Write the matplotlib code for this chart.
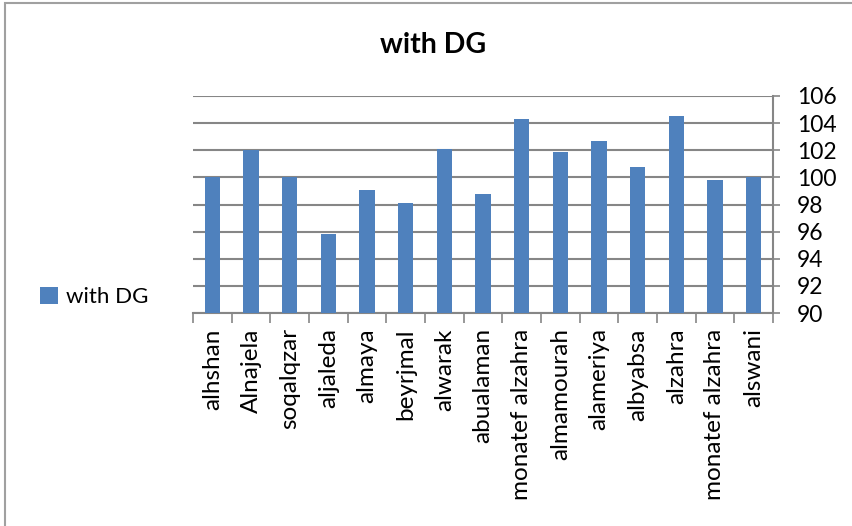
import numpy as np
import matplotlib.pyplot as plt
from matplotlib.patches import Rectangle

plt.rcParams['font.family'] = ['Lato', 'DejaVu Sans']

stations = ['alhshan', 'Alnajela', 'soqalqzar', 'aljaleda', 'almaya', 'beyrjmal',
            'alwarak', 'abualaman', 'monatef alzahra', 'almamourah', 'alameriya',
            'albyabsa', 'alzahra', 'monatef alzahra', 'alswani']
with_dg = [100.0, 102.0, 100.0, 95.8, 99.1, 98.1, 102.1, 98.8,
           104.3, 101.9, 102.7, 100.8, 104.5, 99.8, 100.0]
yticks = list(range(90, 107, 2))

grid_col = '#868686'
bar_col = '#4F81BD'

fig = plt.figure(figsize=(8.53, 5.26), dpi=100)
ax = fig.add_axes([193/853, 1-313/526, 580/853, 217/526])

x = np.arange(len(stations))
ax.bar(x, [v - 90 for v in with_dg], bottom=90, width=0.4, color=bar_col,
       label='with DG', zorder=3)

ax.set_xlim(-0.5, len(stations) - 0.5)
ax.set_ylim(90, 106)
ax.set_yticks(yticks)
ax.yaxis.tick_right()
ax.tick_params(axis='y', length=5, width=1.2, color=grid_col, labelsize=16.5, pad=12)
ax.grid(axis='y', color=grid_col, linewidth=1.5, zorder=0)

# category labels between boundary ticks
ax.set_xticks(x)
ax.set_xticklabels(stations, rotation=90, fontsize=17.5)
ax.tick_params(axis='x', length=0, pad=11)
ax.set_xticks(np.arange(-0.5, len(stations)), minor=True)
ax.tick_params(axis='x', which='minor', length=7, width=1.2, color=grid_col)

for s in ['top', 'left']:
    ax.spines[s].set_visible(False)
ax.spines['bottom'].set_color(grid_col)
ax.spines['bottom'].set_linewidth(1.5)
ax.spines['right'].set_color(grid_col)
ax.spines['right'].set_linewidth(1.5)

fig.text(433/853, 1-45/526, 'with DG', ha='center', va='center',
         fontsize=20.5, fontweight='bold')

ax.legend(loc='center left', bbox_to_anchor=(20/853, 1-297/526),
          bbox_transform=fig.transFigure, frameon=False, fontsize=16,
          handlelength=0.8, handleheight=0.8, handletextpad=0.35)

fig.patches.append(Rectangle((5/853, -0.02), 1.0, 1-3/526+0.02,
                             transform=fig.transFigure, fill=False,
                             edgecolor='#A0A0A0', linewidth=1.5))

fig.savefig('out.png', dpi=100)
